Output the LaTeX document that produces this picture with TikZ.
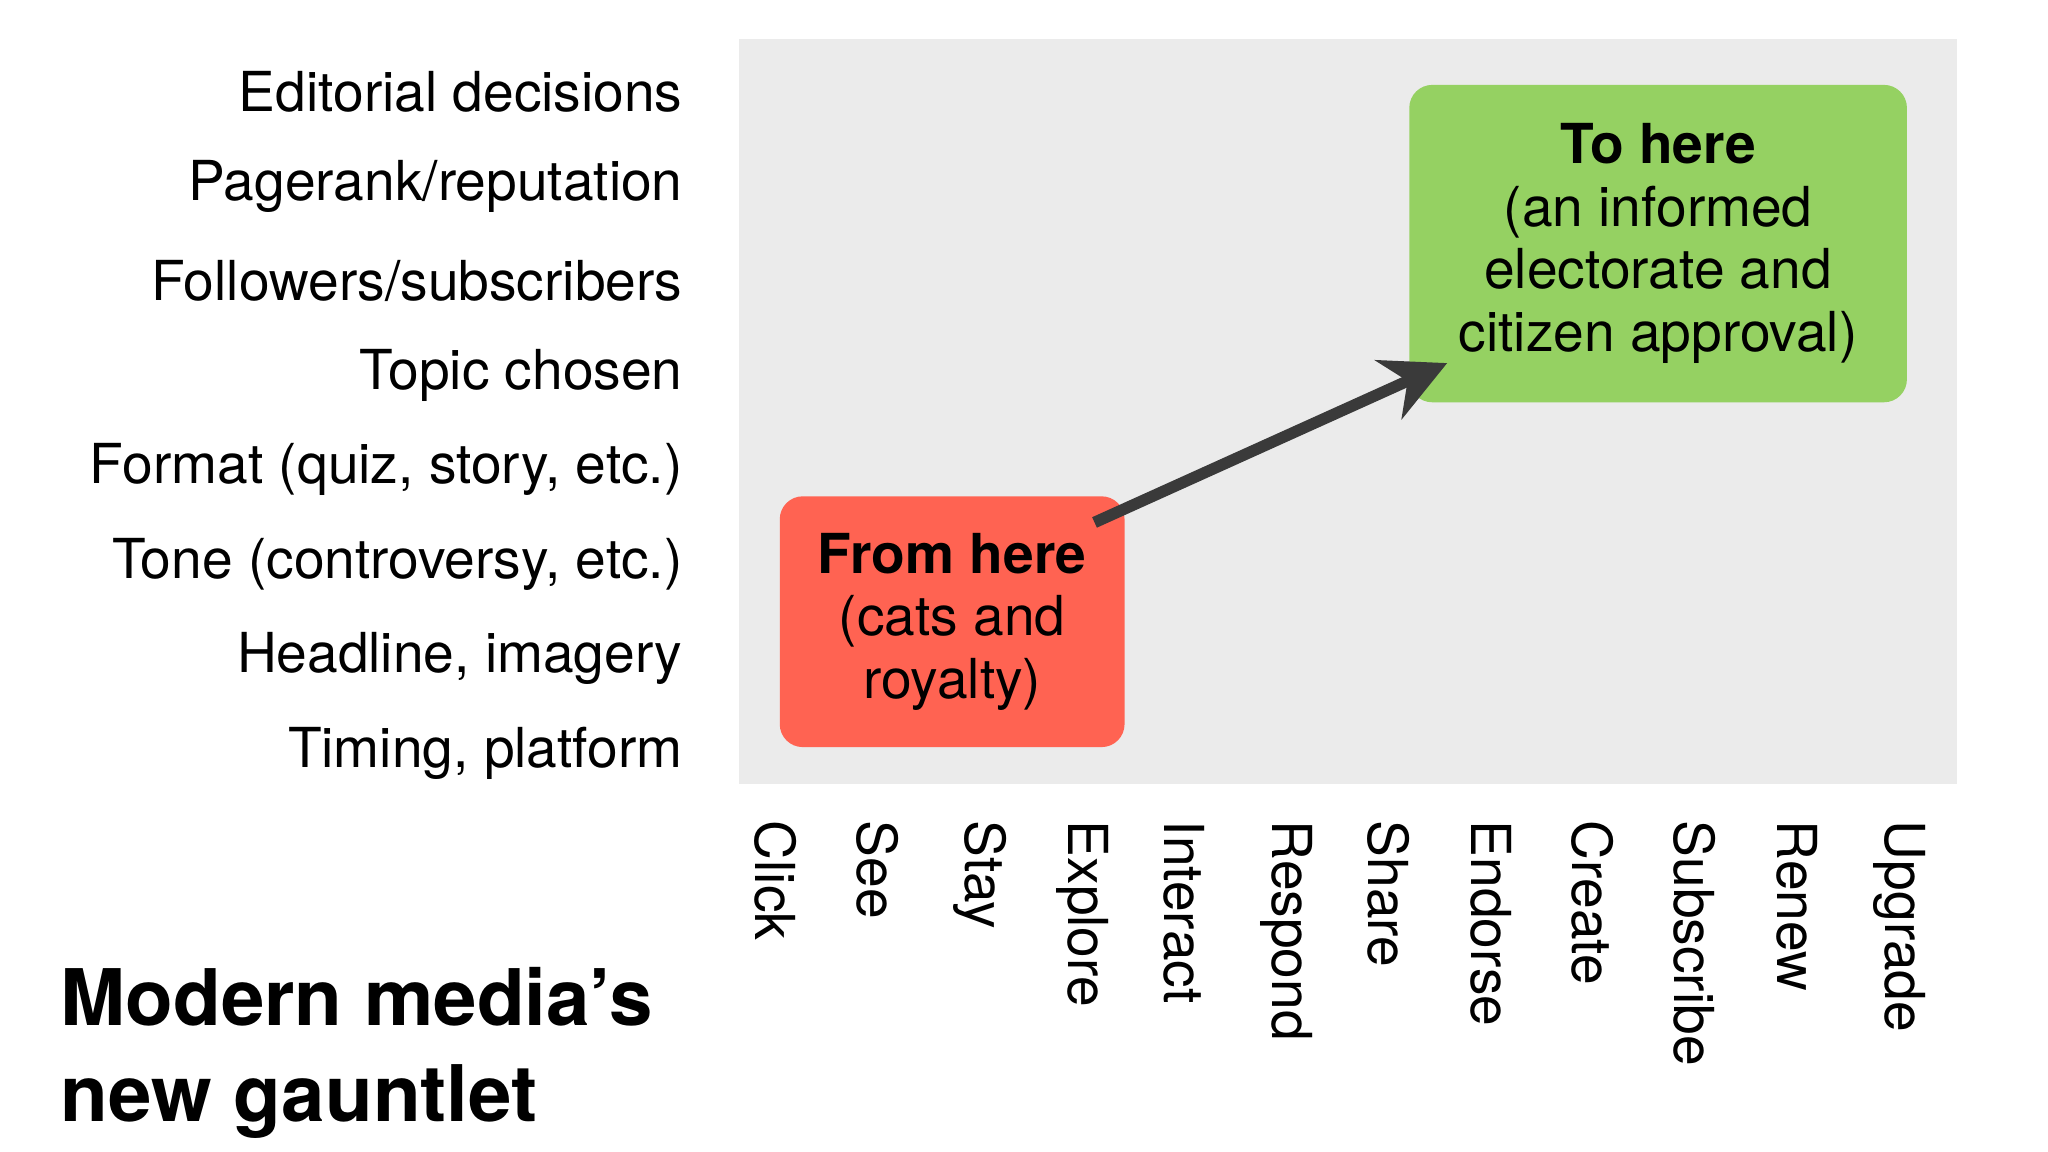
\documentclass[tikz,border=0pt]{standalone}
\usepackage{fontspec}
\setmainfont{TeX Gyre Heros}
\usetikzlibrary{arrows.meta}
\definecolor{bgray}{HTML}{EBEBEB}
\definecolor{bred}{HTML}{FF6352}
\definecolor{bgreen}{HTML}{95D162}
\definecolor{arr}{HTML}{3A3A3A}
\tikzset{
 ylab/.style={anchor=east,font=\fontsize{12}{14}\selectfont},
 xlab/.style={anchor=west,rotate=-90,font=\fontsize{12}{14}\selectfont},
 box/.style={rounded corners=5pt,align=center,font=\fontsize{12}{13.6}\selectfont},
}
\begin{document}
\begin{tikzpicture}[x=0.01cm,y=-0.01cm]
\useasboundingbox (0,0) rectangle (1568,882);
\fill[white] (0,0) rectangle (1568,882);
\fill[bgray] (566,30) rectangle (1498,600);
\node[box,fill=bred,minimum width=264*0.01cm,minimum height=192*0.01cm] (from) at (729,476)
 {\textbf{From here}\\(cats and\\royalty)};
\node[box,fill=bgreen,minimum width=381*0.01cm,minimum height=243*0.01cm] (to) at (1269.5,186.5)
 {\textbf{To here}\\(an informed\\electorate and\\citizen approval)};
\coordinate (a1) at (838,400);
\coordinate (a2) at (1108,278);
\draw[arr,line width=2.5pt,-{Stealth[length=14pt,width=14pt]}] (a1) -- (a2);
\foreach \t [count=\i] in {Editorial decisions,Pagerank/reputation,Followers/subscribers,Topic chosen,{Format (quiz, story, etc.)},{Tone (controversy, etc.)},{Headline, imagery},{Timing, platform}}
 \node[ylab] (y\i) at (535,{70+72.4*(\i-1)}) {\t};
\foreach \t [count=\i] in {Click,See,Stay,Explore,Interact,Respond,Share,Endorse,Create,Subscribe,Renew,Upgrade}
 \node[xlab] (x\i) at ({594+78.2*(\i-1)},616) {\t};
\node[anchor=north west,align=left,font=\bfseries\fontsize{17}{21}\selectfont] (title) at (34,728)
 {Modern media’s\\new gauntlet};
\end{tikzpicture}
\end{document}
